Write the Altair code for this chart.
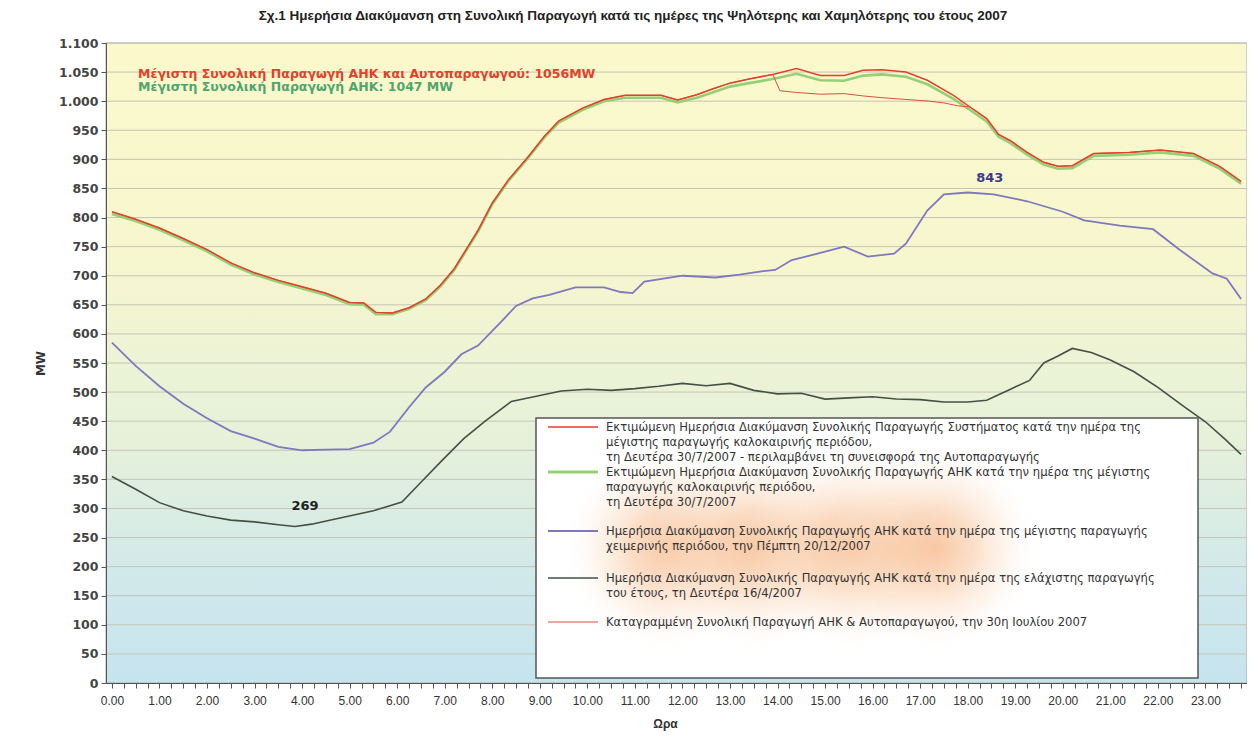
import altair as alt
import pandas as pd

W, H = 1141, 640

# ---------------- data ----------------
summer_hours = [0.0, 0.5, 1.0, 1.5, 2.0, 2.5, 3.0, 3.5, 4.0, 4.5,
                5.0, 5.3, 5.55, 5.9, 6.25, 6.6, 6.9, 7.2, 7.7, 8.0,
                8.35, 8.75, 9.1, 9.4, 9.9, 10.35, 10.8, 11.2, 11.55, 11.9,
                12.3, 12.6, 13.0, 13.4, 13.9, 14.4, 14.9, 15.4, 15.8, 16.2,
                16.7, 17.15, 17.7, 18.05, 18.4, 18.65, 18.9, 19.25, 19.6, 19.9,
                20.2, 20.65, 21.4, 22.05, 22.75, 23.3, 23.75]
summer_total = [810, 797, 782, 764, 745, 722, 705, 692, 681, 670,
                654, 653, 637, 636, 645, 660, 683, 712, 778, 825,
                866, 904, 940, 966, 988, 1003, 1010, 1010, 1010, 1002,
                1011, 1020, 1031, 1038, 1046, 1056, 1044, 1044, 1053, 1054,
                1050, 1036, 1010, 990, 970, 943, 932, 912, 895, 888,
                889, 910, 912, 916, 910, 888, 862]
summer_ahk = [806, 794, 779, 761, 742, 719, 702, 689, 678, 667,
              651, 650, 634, 634, 643, 658, 681, 710, 776, 823,
              864, 902, 938, 963, 985, 1000, 1006, 1006, 1006, 998,
              1006, 1014, 1025, 1031, 1038, 1047, 1036, 1035, 1044, 1046,
              1042, 1029, 1004, 985, 965, 939, 928, 908, 891, 884,
              885, 906, 908, 912, 906, 884, 858]

recorded_hours = [0.0, 0.5, 1.0, 1.5, 2.0, 2.5, 3.0, 3.5, 4.0, 4.5,
                  5.0, 5.3, 5.55, 5.9, 6.25, 6.6, 6.9, 7.2, 7.7, 8.0,
                  8.35, 8.75, 9.1, 9.4, 9.9, 10.35, 10.8, 11.2, 11.55, 11.9,
                  12.3, 12.6, 13.0, 13.4, 13.9, 14.05, 14.4, 14.9, 15.4, 15.8,
                  16.2, 16.7, 17.2, 17.5, 17.8, 18.05, 18.4, 18.65, 18.9, 19.25,
                  19.6, 19.9, 20.2, 20.65, 21.4, 22.05, 22.75, 23.3, 23.75]
recorded_mw = [810, 797, 782, 764, 745, 722, 705, 692, 681, 670,
               654, 653, 637, 636, 645, 660, 683, 712, 778, 825,
               866, 904, 940, 966, 988, 1003, 1010, 1010, 1010, 1002,
               1011, 1020, 1031, 1038, 1046, 1018, 1015, 1012, 1013, 1009,
               1006, 1003, 1000, 997, 992, 990, 970, 943, 932, 912,
               895, 888, 889, 910, 912, 916, 910, 888, 862]

winter_hours = [0.0, 0.5, 1.0, 1.5, 2.0, 2.5, 3.0, 3.5, 4.0, 4.5,
                5.0, 5.5, 5.85, 6.25, 6.6, 7.0, 7.35, 7.7, 8.2, 8.5,
                8.85, 9.2, 9.75, 10.35, 10.7, 10.95, 11.2, 12.0, 12.7, 13.2,
                13.7, 13.95, 14.3, 14.8, 15.4, 15.9, 16.45, 16.7, 17.15, 17.5,
                18.0, 18.55, 19.25, 20.0, 20.45, 21.2, 21.9, 22.45, 23.15, 23.45,
                23.75]
winter_mw = [585, 545, 510, 480, 455, 433, 420, 406, 400, 401,
             402, 413, 432, 474, 508, 535, 565, 580, 622, 648,
             661, 667, 680, 680, 672, 670, 690, 700, 697, 702,
             708, 710, 727, 737, 750, 733, 738, 755, 812, 840,
             843, 840, 828, 810, 795, 786, 780, 745, 704, 695,
             660]

min_hours = [0.0, 0.5, 1.0, 1.5, 2.0, 2.5, 3.0, 3.5, 3.85, 4.2,
             4.7, 5.5, 6.1, 6.5, 6.95, 7.4, 7.85, 8.4, 9.0, 9.45,
             10.0, 10.5, 11.0, 11.5, 12.0, 12.5, 13.0, 13.5, 14.0, 14.5,
             15.0, 15.5, 16.0, 16.5, 17.0, 17.5, 18.0, 18.4, 18.9, 19.3,
             19.6, 19.9, 20.2, 20.6, 21.0, 21.5, 22.0, 22.5, 23.0, 23.4,
             23.75]
min_mw = [355, 333, 310, 296, 287, 280, 277, 272, 269, 273,
          282, 296, 311, 345, 383, 420, 450, 484, 494, 502,
          505, 503, 506, 510, 515, 511, 515, 503, 497, 498,
          488, 490, 492, 488, 487, 483, 483, 486, 505, 520,
          550, 562, 575, 568, 555, 535, 508, 478, 449, 420,
          393]

y_ticks = list(range(0, 1101, 50))
x_ticks = [i * 0.25 for i in range(96)]

title_text = ("Σχ.1 Ημερήσια Διακύμανση στη Συνολική Παραγωγή κατά τις ημέρες "
              "της Ψηλότερης και Χαμηλότερης του έτους 2007")
legend_labels = [
    "Εκτιμώμενη Ημερήσια Διακύμανση Συνολικής Παραγωγής Συστήματος κατά την ημέρα της\n"
    "μέγιστης παραγωγής καλοκαιρινής περιόδου,\n"
    "τη Δευτέρα 30/7/2007 - περιλαμβάνει τη συνεισφορά της Αυτοπαραγωγής",
    "Εκτιμώμενη Ημερήσια Διακύμανση Συνολικής Παραγωγής ΑΗΚ κατά την ημέρα της μέγιστης\n"
    "παραγωγής καλοκαιρινής περιόδου,\n"
    "τη Δευτέρα 30/7/2007",
    "Ημερήσια Διακύμανση Συνολικής Παραγωγής ΑΗΚ κατά την ημέρα της μέγιστης παραγωγής\n"
    "χειμερινής περιόδου, την Πέμπτη 20/12/2007",
    "Ημερήσια Διακύμανση Συνολικής Παραγωγής ΑΗΚ κατά την ημέρα της ελάχιστης παραγωγής\n"
    "του έτους, τη Δευτέρα 16/4/2007",
    "Καταγραμμένη  Συνολική Παραγωγή ΑΗΚ & Αυτοπαραγωγού, την 30η Ιουλίου 2007",
]

RED = "#E2412B"
GREEN = "#95D074"
BLUE = "#7F78BF"
DARK = "#464F46"
REC = "#D9503F"

# ---------------- encodings ----------------
x_scale = alt.Scale(domain=[-0.125, 23.875], nice=False, zero=False)
y_scale = alt.Scale(domain=[0, 1100], nice=False, zero=True)

X_ENC = alt.X("hour:Q", scale=x_scale, axis=alt.Axis(
    values=x_ticks,
    labelExpr="datum.value % 1 == 0 ? format(datum.value, '.2f') : ''",
    labelFlush=False, labelOverlap=False,
    labelFont="Liberation Sans Narrow, Liberation Sans, sans-serif",
    labelFontSize=12, labelColor="#333", labelPadding=7,
    tickSize=5, tickColor="#555", domainColor="#555", grid=False,
    title="Ωρα", titleFont="Liberation Sans", titleFontSize=12, titleFontWeight="bold",
    titleColor="#333", titleX=559, titleY=40, titleBaseline="middle", zindex=1))
Y_ENC = alt.Y("mw:Q", scale=y_scale, axis=alt.Axis(
    values=y_ticks,
    labelExpr="replace(format(datum.value, ','), ',', '.')",
    labelFont="DejaVu Sans", labelFontWeight="bold", labelFontSize=12.5,
    labelColor="#444", labelPadding=3,
    tickSize=5, tickColor="#555", domainColor="#555", grid=False,
    title="MW", titleFont="DejaVu Sans", titleFontSize=12, titleFontWeight="bold",
    titleColor="#333", titleX=-66, titleY=320, titleAngle=270, titleBaseline="middle",
    zindex=1))

one = pd.DataFrame({"k": [0]})

background = alt.Chart(one).mark_rect(
    fill=alt.LinearGradient(
        gradient="linear", x1=0, x2=0, y1=0, y2=1,
        stops=[alt.GradientStop(color="#FBF9CB", offset=0),
               alt.GradientStop(color="#F6F6CF", offset=0.35),
               alt.GradientStop(color="#E6F1DA", offset=0.62),
               alt.GradientStop(color="#CFE8EC", offset=0.85),
               alt.GradientStop(color="#C6E4EE", offset=1)]),
    stroke="#aaa", strokeWidth=1,
).encode(x=alt.value(0), x2=alt.value(W), y=alt.value(0), y2=alt.value(H))

grid = alt.Chart(pd.DataFrame({"mw": y_ticks})).mark_rule(
    color="#c6c4b6", strokeWidth=1).encode(
    y=Y_ENC, x=alt.value(0), x2=alt.value(W))


def series(hours, vals, color, width):
    df = pd.DataFrame({"hour": hours, "mw": vals})
    return alt.Chart(df).mark_line(color=color, strokeWidth=width).encode(x=X_ENC, y=Y_ENC)


l_blue = series(winter_hours, winter_mw, BLUE, 1.8)
l_dark = series(min_hours, min_mw, DARK, 1.6)
l_green = series(summer_hours, summer_ahk, GREEN, 2.6)
l_rec = series(recorded_hours, recorded_mw, REC, 1.0)
l_red = series(summer_hours, summer_total, RED, 1.5)

# ---------------- annotations ----------------
w_peak = max(winter_mw)
w_peak_h = winter_hours[winter_mw.index(w_peak)]
m_low = min(min_mw)
m_low_h = min_hours[min_mw.index(m_low)]

peak_lbl = alt.Chart(pd.DataFrame({"hour": [w_peak_h], "mw": [w_peak], "t": [str(w_peak)]})).mark_text(
    font="DejaVu Sans", fontWeight="bold", fontSize=13, color="#3E3A8C", dy=-15, dx=22
).encode(x=X_ENC, y=Y_ENC, text="t:N")
low_lbl = alt.Chart(pd.DataFrame({"hour": [m_low_h], "mw": [m_low], "t": [str(m_low)]})).mark_text(
    font="DejaVu Sans", fontWeight="bold", fontSize=13, color="#222", dy=-20, dx=10
).encode(x=X_ENC, y=Y_ENC, text="t:N")

max_total = max(summer_total)
max_ahk = max(summer_ahk)
ann = pd.DataFrame({
    "hour": [0.55, 0.55],
    "mw": [1047, 1025],
    "t": [f"Μέγιστη Συνολική Παραγωγή ΑΗΚ και Αυτοπαραγωγού: {max_total}MW",
          f"Μέγιστη Συνολική Παραγωγή ΑΗΚ: {max_ahk} MW"],
    "c": [RED, "#4FA56E"],
})
max_lbl = alt.Chart(ann).mark_text(
    font="DejaVu Sans", fontWeight="bold", fontSize=12.5, align="left", baseline="middle"
).encode(x=X_ENC, y=Y_ENC, text="t:N", color=alt.Color("c:N", scale=None))

title = alt.Chart(one).mark_text(
    font="Liberation Sans", fontWeight="bold", fontSize=13.5, color="#222",
    align="center", baseline="middle"
).encode(x=alt.value(527), y=alt.value(-27), text=alt.value(title_text))

# ---------------- legend ----------------
legend_box = alt.Chart(one).mark_rect(fill="white", stroke="#555", strokeWidth=1.5).encode(
    x=alt.value(430), x2=alt.value(1092), y=alt.value(375), y2=alt.value(635))

glow_fill = alt.RadialGradient(
    gradient="radial", x1=0.5, y1=0.5, r1=0, x2=0.5, y2=0.5, r2=0.5,
    stops=[alt.GradientStop(color="rgba(243,155,90,0.55)", offset=0),
           alt.GradientStop(color="rgba(245,172,115,0.4)", offset=0.35),
           alt.GradientStop(color="rgba(250,208,172,0.18)", offset=0.7),
           alt.GradientStop(color="rgba(255,255,255,0)", offset=1)])
glows = []
for cx in [560, 650, 745, 830]:
    glows.append(alt.Chart(one).mark_rect(fill=glow_fill).encode(
        x=alt.value(cx - 105), x2=alt.value(cx + 105),
        y=alt.value(400), y2=alt.value(610)))

leg_y = [384, 429, 488, 535, 579]
leg_col = [RED, GREEN, BLUE, DARK, REC]
leg_w = [1.6, 3, 1.8, 1.6, 1.0]
legend_layers = [legend_box, *glows]
for yy, col, sw, lab in zip(leg_y, leg_col, leg_w, legend_labels):
    legend_layers.append(alt.Chart(one).mark_rule(color=col, strokeWidth=sw).encode(
        x=alt.value(442), x2=alt.value(492), y=alt.value(yy)))
    legend_layers.append(alt.Chart(one).mark_text(
        font="DejaVu Sans", fontSize=11.6, color="#333", align="left",
        baseline="alphabetic", lineBreak="\n", lineHeight=15
    ).encode(x=alt.value(500), y=alt.value(yy + 4), text=alt.value(lab)))

chart = alt.layer(
    background, grid, l_blue, l_dark, l_green, l_rec, l_red,
    *legend_layers, peak_lbl, low_lbl, max_lbl, title
).properties(
    width=W, height=H,
    padding={"left": 98, "top": 35, "right": 0, "bottom": 49},
    autosize=alt.AutoSizeParams(type="none"),
    background="white",
).configure_view(stroke=None)

chart.save("out.html", embed_options={"renderer": "svg", "actions": False})
